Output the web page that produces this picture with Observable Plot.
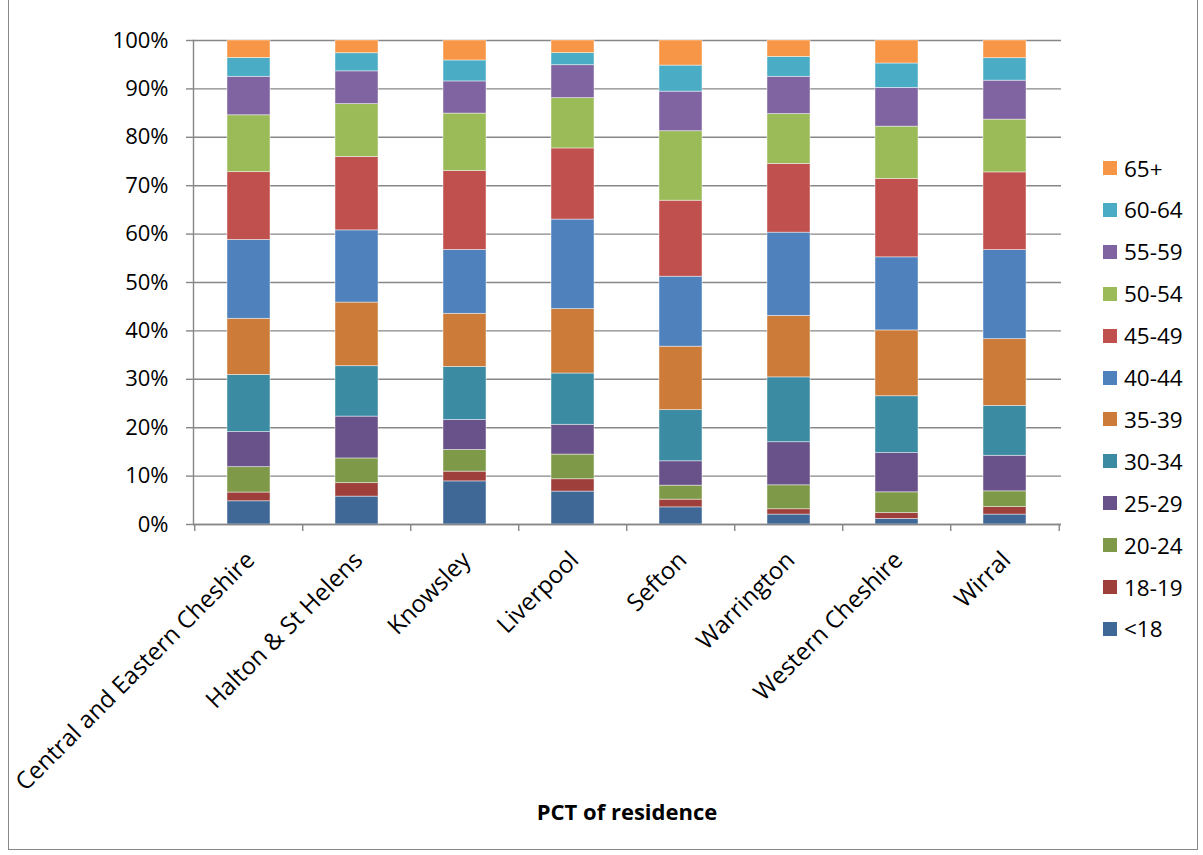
<!DOCTYPE html>
<html>
<head>
<meta charset="utf-8">
<script src="https://cdn.jsdelivr.net/npm/d3@7"></script>
<script src="https://cdn.jsdelivr.net/npm/@observablehq/plot@0.6"></script>
<style>
  html, body { margin: 0; padding: 0; background: #fff; }
  #wrap { position: relative; width: 1203px; height: 855px; overflow: hidden; font-family: "Open Sans", sans-serif; }
  #wrap svg { position: absolute; left: 0; top: 0; }
  #frame { position: absolute; left: 8px; top: -2px; width: 1190px; height: 852px; border: 1.5px solid #878787; box-sizing: border-box; }
  #title { position: absolute; left: 193px; width: 868px; top: 796px; text-align: center; font-weight: bold; font-size: 22px; color: #000; }
  .leg { position: absolute; left: 1103px; height: 30px; display: flex; align-items: center; font-size: 22.5px; color: #000; }
  .leg span.sw { display: inline-block; width: 14px; height: 14px; margin-right: 7px; }
</style>
</head>
<body>
<div id="wrap"><div id="frame"></div></div>
<script>
const categories = ["Central and Eastern Cheshire", "Halton & St Helens", "Knowsley", "Liverpool", "Sefton", "Warrington", "Western Cheshire", "Wirral"];
const ageGroups = ["<18", "18-19", "20-24", "25-29", "30-34", "35-39", "40-44", "45-49", "50-54", "55-59", "60-64", "65+"];
const ageColors = ["#3F6897", "#9E3F3C", "#7E9A48", "#69528A", "#3B8BA3", "#CC7B38", "#4F81BD", "#C0504D", "#9BBB59", "#8064A2", "#4BACC6", "#F79646"];
// percentage share of each age group, in category order
const under18 = [4.8, 5.7, 8.85, 6.8, 3.55, 2.05, 1.15, 2.05];
const age18_19 = [1.8, 2.75, 2.0, 2.55, 1.6, 1.1, 1.2, 1.55];
const age20_24 = [5.25, 5.05, 4.45, 5.1, 2.9, 4.95, 4.3, 3.25];
const age25_29 = [7.25, 8.55, 6.15, 6.15, 5.05, 8.9, 8.1, 7.35];
const age30_34 = [11.8, 10.3, 10.9, 10.6, 10.6, 13.4, 11.75, 10.3];
const age35_39 = [11.6, 13.0, 10.9, 13.3, 13.15, 12.7, 13.6, 13.8];
const age40_44 = [16.3, 14.75, 13.1, 18.5, 14.5, 17.2, 15.1, 18.4];
const age45_49 = [14.0, 15.0, 16.2, 14.7, 15.75, 14.2, 16.2, 16.05];
const age50_54 = [11.75, 10.8, 11.8, 10.4, 14.4, 10.3, 10.8, 10.9];
const age55_59 = [7.95, 6.7, 6.6, 6.8, 8.2, 7.7, 8.0, 8.05];
const age60_64 = [3.9, 3.7, 4.3, 2.5, 5.4, 4.1, 5.05, 4.65];
const age65plus = [3.6, 2.6, 4.1, 2.6, 5.2, 3.4, 4.75, 3.65];
const yTickValues = [0, 0.1, 0.2, 0.3, 0.4, 0.5, 0.6, 0.7, 0.8, 0.9, 1];
const xTitle = "PCT of residence";

const series = [under18, age18_19, age20_24, age25_29, age30_34, age35_39, age40_44, age45_49, age50_54, age55_59, age60_64, age65plus];
const data = [];
ageGroups.forEach((g, i) => categories.forEach((c, j) => data.push({pct: c, age: g, value: series[i][j]})));

const W = 1203, H = 855, mL = 193, mR = 142, mT = 40, mB = 331;
const step = (W - mL - mR) / categories.length;
const gray = "#878787";

const chart = Plot.plot({
  width: W, height: H,
  marginLeft: mL, marginRight: mR, marginTop: mT, marginBottom: mB,
  style: {fontFamily: "Open Sans, sans-serif", fontSize: "22px", color: "#000", background: "transparent", overflow: "visible"},
  x: {domain: categories, paddingInner: 0.6, paddingOuter: 0.3, axis: null, label: null},
  y: {domain: [0, 1], axis: null, label: null},
  color: {domain: ageGroups, range: ageColors},
  marks: [
    Plot.gridY(yTickValues, {stroke: gray, strokeOpacity: 1, strokeWidth: 1.4}),
    Plot.barY(data, Plot.stackY({offset: "normalize", x: "pct", y: "value", fill: "age", stroke: "white", strokeOpacity: 0.55, strokeWidth: 0.8})),
    Plot.ruleY([0], {stroke: gray, strokeWidth: 1.4}),
    Plot.frame({anchor: "left", stroke: gray, strokeWidth: 1.4}),
    Plot.axisY(yTickValues, {tickFormat: d3.format(".0%"), tickSize: 7, tickPadding: 18, stroke: gray, strokeWidth: 1.4, fontSize: 22, fill: "#000", label: null}),
    Plot.axisX(categories, {text: null, tickSize: 7, dx: -step / 2, stroke: gray, strokeWidth: 1.4, label: null}),
    Plot.axisX([categories[categories.length - 1]], {text: null, tickSize: 7, dx: step / 2, stroke: gray, strokeWidth: 1.4, label: null}),
    Plot.text(categories, {x: d => d, frameAnchor: "bottom", rotate: -45, textAnchor: "end", lineAnchor: "top", dx: -5, dy: 25, fontSize: 24, fill: "#000"})
  ]
});

const wrap = document.getElementById("wrap");
wrap.appendChild(chart);

const title = document.createElement("div");
title.id = "title";
title.textContent = xTitle;
wrap.appendChild(title);

// legend, top item is the last series
ageGroups.slice().reverse().forEach((g, k) => {
  const i = ageGroups.length - 1 - k;
  const d = document.createElement("div");
  d.className = "leg";
  d.style.top = (168 + k * 41.9 - 15) + "px";
  const sw = document.createElement("span");
  sw.className = "sw";
  sw.style.background = ageColors[i];
  d.appendChild(sw);
  d.appendChild(document.createTextNode(g));
  wrap.appendChild(d);
});
</script>
</body>
</html>
